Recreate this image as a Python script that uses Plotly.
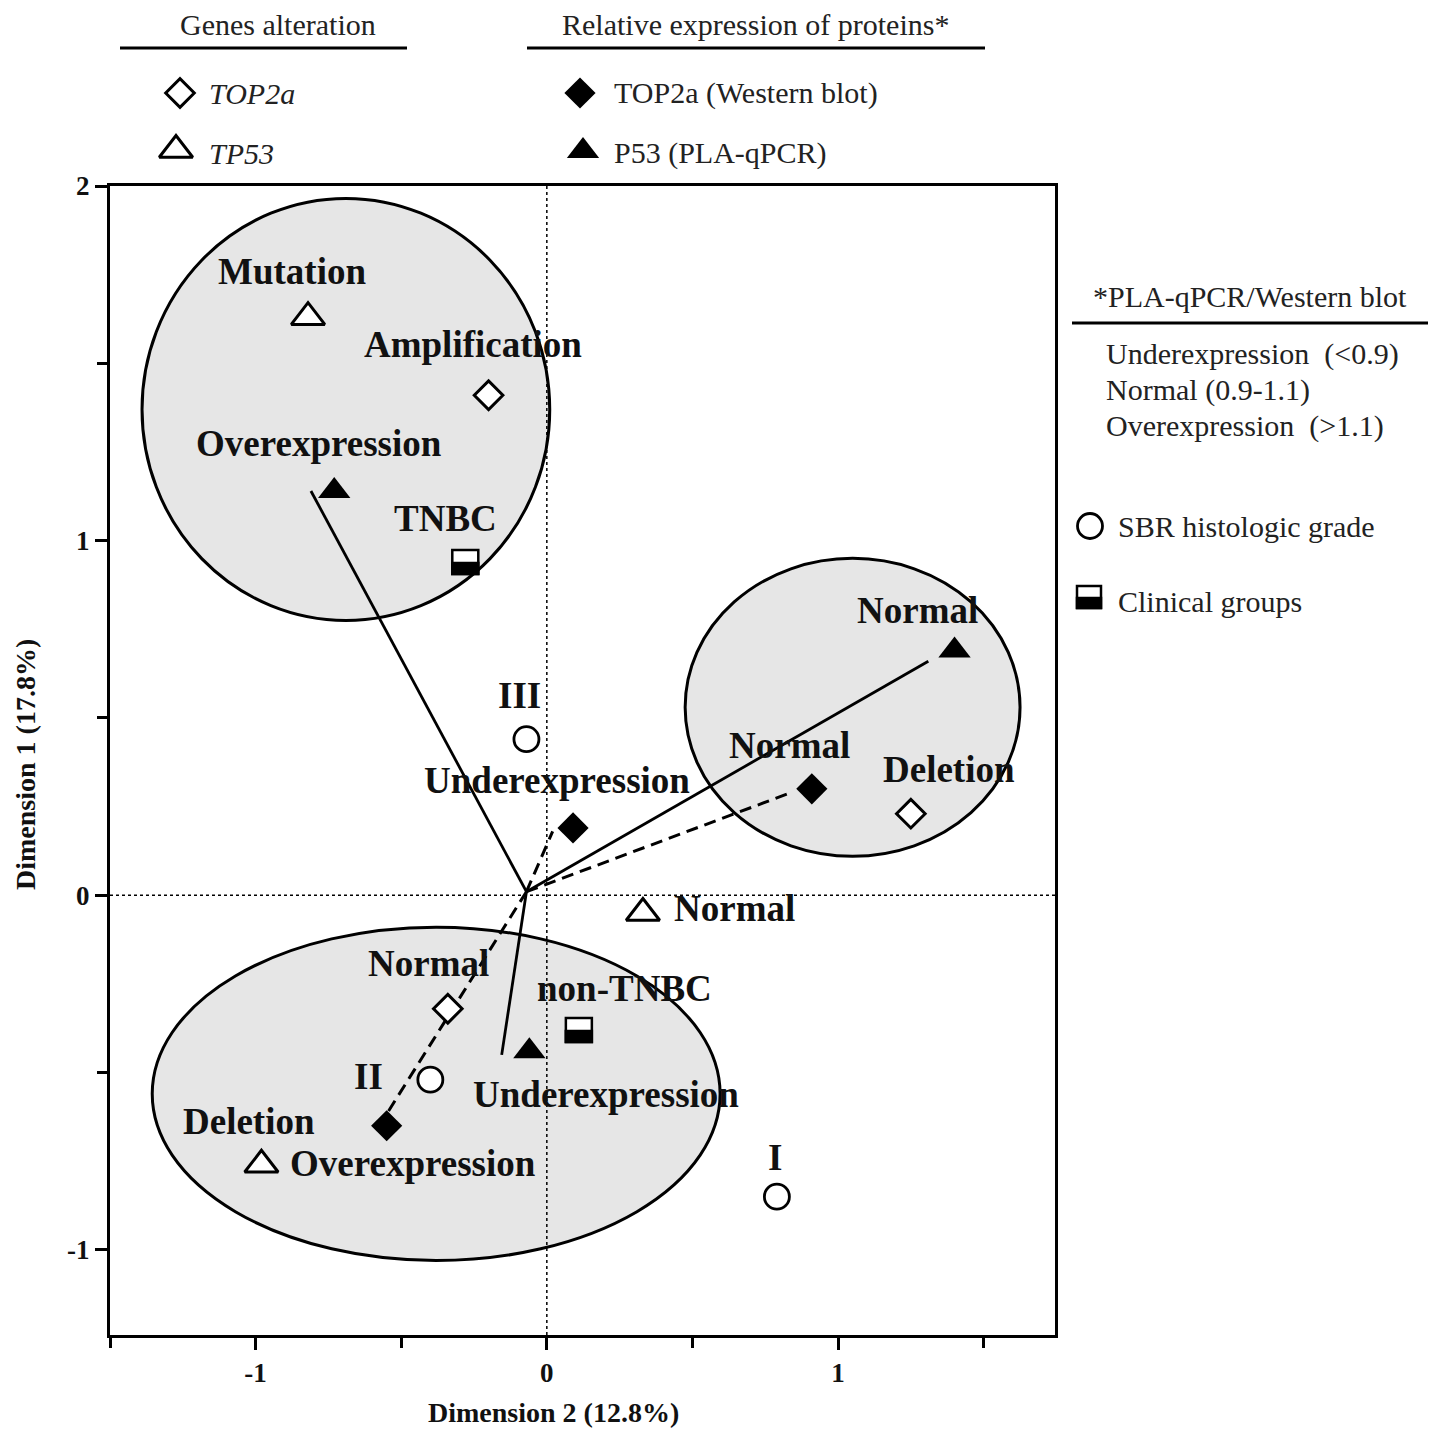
import plotly.graph_objects as go

# ---- values (x = Dimension 2, y = Dimension 1)
top2a_gene_lab = ["Amplification", "Deletion", "Normal"]
top2a_gene_x = [-0.20, 1.25, -0.34]
top2a_gene_y = [1.41, 0.23, -0.32]

tp53_gene_lab = ["Mutation", "Normal", "Deletion"]
tp53_gene_x = [-0.82, 0.33, -0.98]
tp53_gene_y = [1.63, -0.05, -0.76]

top2a_wb_lab = ["Underexpression", "Normal", "Overexpression"]
top2a_wb_x = [0.09, 0.91, -0.55]
top2a_wb_y = [0.19, 0.30, -0.65]

p53_pla_lab = ["Overexpression", "Normal", "Underexpression"]
p53_pla_x = [-0.73, 1.40, -0.06]
p53_pla_y = [1.14, 0.69, -0.44]

sbr_lab = ["III", "II", "I"]
sbr_x = [-0.07, -0.40, 0.79]
sbr_y = [0.44, -0.52, -0.85]

clin_lab = ["TNBC", "non-TNBC"]
clin_x = [-0.28, 0.11]
clin_y = [0.94, -0.38]

# trajectories drawn from a common origin
origin_x, origin_y = -0.07, 0.01
solid_end_x = [-0.81, 1.31, -0.155]
solid_end_y = [1.14, 0.66, -0.45]
dash_end_x = [0.02, 0.84, -0.56]
dash_end_y = [0.18, 0.29, -0.63]

# cluster ellipses: centre and half axes
ell_cx = [-0.69, 1.05, -0.38]
ell_cy = [1.37, 0.53, -0.56]
ell_rx = [0.70, 0.575, 0.975]
ell_ry = [0.595, 0.42, 0.47]

x_ticks = [-1, 0, 1]
x_ticktext = ["-1", "0", "1"]
y_ticks = [-1, 0, 1, 2]
y_ticktext = ["-1", "0", "1", "2"]

# ---- label offsets in pixels (dx, dy up)
off_top2a_gene = [(-16, 51), (38, 44), (-19, 45)]
off_tp53_gene = [(-16, 46), (29, 4, "left"), (-12, 43)]
off_top2a_wb = [(-16, 47), (-22, 43), (26, -38)]
off_p53_pla = [(-15, 47), (-37, 40), (77, -43)]
off_sbr = [(-7, 44), (-62, 3), (-2, 39)]
off_clin = [(-20, 43), (46, 42)]

W, H = 1441, 1434
OFF = 8  # page margin of the html body
L, R, T, B = 110, 1055, 186, 1335
SERIF = "Liberation Serif"

fig = go.Figure()

# ellipses
shapes = []
for cx, cy, rx, ry in zip(ell_cx, ell_cy, ell_rx, ell_ry):
    shapes.append(dict(type="circle", xref="x", yref="y",
                       x0=cx - rx, x1=cx + rx, y0=cy - ry, y1=cy + ry,
                       fillcolor="#e6e6e6", line=dict(color="black", width=3),
                       layer="below"))
# dotted zero lines
shapes.append(dict(type="line", xref="x", yref="y domain", x0=0, x1=0, y0=0, y1=1,
                   line=dict(color="black", width=1.5, dash="dot")))
shapes.append(dict(type="line", xref="x domain", yref="y", x0=0, x1=1, y0=0, y1=0,
                   line=dict(color="black", width=1.5, dash="dot")))

# trajectories
sx, sy, dx_, dy_ = [], [], [], []
for ex, ey in zip(solid_end_x, solid_end_y):
    sx += [origin_x, ex, None]
    sy += [origin_y, ey, None]
for ex, ey in zip(dash_end_x, dash_end_y):
    dx_ += [origin_x, ex, None]
    dy_ += [origin_y, ey, None]
fig.add_trace(go.Scatter(x=sx, y=sy, mode="lines", line=dict(color="black", width=2.8),
                         hoverinfo="skip"))
fig.add_trace(go.Scatter(x=dx_, y=dy_, mode="lines",
                         line=dict(color="black", width=3, dash="12px,7px"),
                         hoverinfo="skip"))

open_line = dict(color="black", width=3)
mk_open_dia = dict(symbol="diamond", size=22, color="white", line=open_line)
mk_open_tri = dict(symbol="triangle-up", size=29, color="white", line=open_line)
mk_fill_dia = dict(symbol="diamond", size=24, color="black", line=dict(width=0))
mk_fill_tri = dict(symbol="triangle-up", size=28, color="black", line=dict(width=0))
mk_circle = dict(symbol="circle", size=25, color="white", line=dict(color="black", width=2.8))

fig.add_trace(go.Scatter(x=top2a_gene_x, y=top2a_gene_y, mode="markers", marker=mk_open_dia))
fig.add_trace(go.Scatter(x=tp53_gene_x, y=tp53_gene_y, mode="markers", marker=mk_open_tri))
fig.add_trace(go.Scatter(x=top2a_wb_x, y=top2a_wb_y, mode="markers", marker=mk_fill_dia))
fig.add_trace(go.Scatter(x=p53_pla_x, y=p53_pla_y, mode="markers", marker=mk_fill_tri))
fig.add_trace(go.Scatter(x=sbr_x, y=sbr_y, mode="markers", marker=mk_circle))


# half-filled squares for clinical groups (anchored on data, sized in pixels)
def half_square(xref, yref, xa, ya, s=13):
    base = dict(xref=xref, yref=yref, xsizemode="pixel", ysizemode="pixel",
                xanchor=xa, yanchor=ya, layer="above")
    return [dict(type="rect", x0=-s, x1=s, y0=-s + 1, y1=s - 1, fillcolor="white",
                 line=dict(color="black", width=2.5), **base),
            dict(type="rect", x0=-s, x1=s, y0=-s + 1, y1=-1, fillcolor="black",
                 line=dict(color="black", width=2.5), **base)]


for cx, cy in zip(clin_x, clin_y):
    shapes += half_square("x", "y", cx, cy)

# point labels
annos = []
lab_font = dict(family=SERIF, size=37, color="#111", weight="bold")
groups = [(top2a_gene_lab, top2a_gene_x, top2a_gene_y, off_top2a_gene),
          (tp53_gene_lab, tp53_gene_x, tp53_gene_y, off_tp53_gene),
          (top2a_wb_lab, top2a_wb_x, top2a_wb_y, off_top2a_wb),
          (p53_pla_lab, p53_pla_x, p53_pla_y, off_p53_pla),
          (sbr_lab, sbr_x, sbr_y, off_sbr),
          (clin_lab, clin_x, clin_y, off_clin)]
for labs, xs, ys, offs in groups:
    for lab, x, y, off in zip(labs, xs, ys, offs):
        anchor = off[2] if len(off) > 2 else "center"
        annos.append(dict(x=x, y=y, xref="x", yref="y", text=lab, showarrow=False,
                          xshift=off[0], yshift=off[1], xanchor=anchor, yanchor="middle",
                          font=lab_font))

# ---- legend drawn on a page-sized overlay axis (screen pixel coordinates)
leg_font = dict(family=SERIF, size=30, color="#222")
leg_text = [
    ("Genes alteration", 278, 24, "center", False),
    ("Relative expression of proteins*", 755, 24, "center", False),
    ("TOP2a", 207, 93, "left", True),
    ("TP53", 207, 153, "left", True),
    ("TOP2a (Western blot)", 612, 93, "left", False),
    ("P53 (PLA-qPCR)", 612, 153, "left", False),
    ("*PLA-qPCR/Western blot", 1250, 296, "center", False),
    ("Underexpression  (<0.9)", 1104, 354, "left", False),
    ("Normal (0.9-1.1)", 1104, 390, "left", False),
    ("Overexpression  (>1.1)", 1104, 426, "left", False),
    ("SBR histologic grade", 1116, 526, "left", False),
    ("Clinical groups", 1116, 601, "left", False),
]
for txt, px, py, anc, ital in leg_text:
    annos.append(dict(x=px, y=py, xref="x2", yref="y2", text=f"<i>{txt}</i>" if ital else txt,
                      showarrow=False, xanchor=anc, yanchor="middle", font=leg_font))

for x0, x1, yy in [(120, 407, 48), (527, 985, 48), (1072, 1428, 323)]:
    shapes.append(dict(type="line", xref="x2", yref="y2", x0=x0, x1=x1, y0=yy, y1=yy,
                       line=dict(color="black", width=3)))

leg_mk = [
    (180, 93, mk_open_dia),
    (176, 150, mk_open_tri),
    (580, 93, mk_fill_dia),
    (583, 151, mk_fill_tri),
    (1090, 526, mk_circle),
]
for px, py, mk in leg_mk:
    fig.add_trace(go.Scatter(x=[px], y=[py], xaxis="x2", yaxis="y2", mode="markers",
                             marker=mk, hoverinfo="skip"))
shapes += half_square("x2", "y2", 1089, 597, s=12)

# axis titles placed as page annotations
title_font = dict(family=SERIF, size=28, color="#111", weight="bold")
annos.append(dict(x=553, y=1412, xref="x2", yref="y2", text="Dimension 2 (12.8%)",
                  showarrow=False, xanchor="center", yanchor="middle", font=title_font))
annos.append(dict(x=25, y=765, xref="x2", yref="y2", text="Dimension 1 (17.8%)",
                  showarrow=False, xanchor="center", yanchor="middle", textangle=-90,
                  font=title_font))

tick_font = dict(family=SERIF, size=27, color="#111", weight="bold")
axis_common = dict(showgrid=False, zeroline=False, showline=True, linewidth=3,
                   linecolor="black", mirror=True, ticks="outside", ticklen=12,
                   tickwidth=3, tickcolor="black", tickfont=tick_font, automargin=False,
                   minor=dict(dtick=0.5, ticks="outside", ticklen=10, tickwidth=3,
                              tickcolor="black"))

fig.update_layout(
    width=W, height=H, showlegend=False,
    margin=dict(l=0, r=0, t=0, b=0),
    paper_bgcolor="white", plot_bgcolor="rgba(0,0,0,0)",
    shapes=shapes, annotations=annos,
    xaxis=dict(domain=[(L - OFF) / W, (R - OFF) / W], range=[-1.5, 1.745],
               tickvals=x_ticks, ticktext=x_ticktext, anchor="y", **axis_common),
    yaxis=dict(domain=[1 - (B - OFF) / H, 1 - (T - OFF) / H], range=[-1.24, 2.0],
               tickvals=y_ticks, ticktext=y_ticktext, anchor="x", **axis_common),
    xaxis2=dict(domain=[0, 1], range=[OFF, W + OFF], visible=False, anchor="y2",
                fixedrange=True),
    yaxis2=dict(domain=[0, 1], range=[H + OFF, OFF], visible=False, anchor="x2",
                fixedrange=True),
)

fig.write_html("out.html")
